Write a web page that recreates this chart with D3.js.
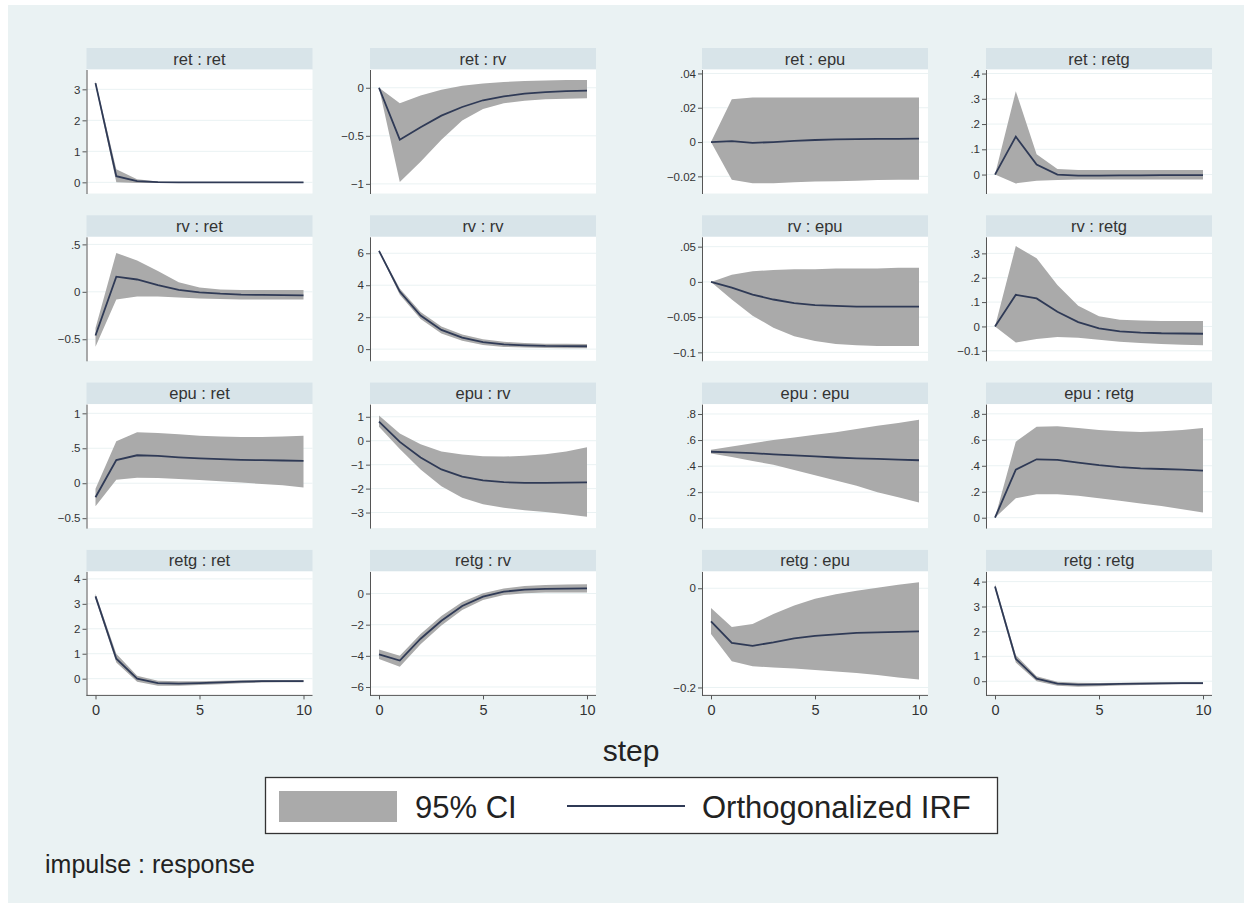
<!DOCTYPE html>
<html>
<head>
<meta charset="utf-8">
<script src="https://cdn.jsdelivr.net/npm/d3@7"></script>
<style>
  body { margin: 0; background: #fff; }
  svg { display: block; }
  text { font-family: "Liberation Sans", Arial, sans-serif; }
</style>
</head>
<body>
<div id="chart-area"></div>
<script>
// impulse : response, steps 0..10
const steps = [0, 1, 2, 3, 4, 5, 6, 7, 8, 9, 10]
const impulses = ["ret", "rv", "epu", "retg"]
const responses = ["ret", "rv", "epu", "retg"]
const xTicks = [0, 5, 10]

// ret -> ...
const irf_ret_ret = [3.2, 0.2, 0.04, 0.01, 0, 0, 0, 0, 0, 0, 0]
const lo_ret_ret  = [3.13, 0.0, -0.02, -0.02, -0.01, -0.01, -0.01, -0.01, -0.01, -0.01, -0.01]
const hi_ret_ret  = [3.27, 0.42, 0.1, 0.03, 0.01, 0.01, 0.01, 0.01, 0.01, 0.01, 0.01]

const irf_ret_rv = [0, -0.54, -0.41, -0.29, -0.2, -0.13, -0.09, -0.06, -0.045, -0.035, -0.03]
const lo_ret_rv  = [0, -0.98, -0.77, -0.54, -0.34, -0.22, -0.16, -0.135, -0.12, -0.115, -0.11]
const hi_ret_rv  = [0, -0.16, -0.08, -0.02, 0.02, 0.045, 0.06, 0.07, 0.075, 0.08, 0.08]

const irf_ret_epu = [0, 0.0005, -0.0005, 0, 0.0007, 0.0012, 0.0015, 0.0017, 0.0018, 0.0019, 0.002]
const lo_ret_epu  = [0, -0.022, -0.024, -0.024, -0.0235, -0.023, -0.0228, -0.0225, -0.0222, -0.022, -0.022]
const hi_ret_epu  = [0, 0.025, 0.026, 0.026, 0.026, 0.026, 0.026, 0.026, 0.026, 0.026, 0.026]

const irf_ret_retg = [0, 0.15, 0.04, 0.0, -0.004, -0.004, -0.003, -0.003, -0.002, -0.002, -0.002]
const lo_ret_retg  = [0, -0.035, -0.025, -0.022, -0.02, -0.02, -0.02, -0.02, -0.02, -0.02, -0.02]
const hi_ret_retg  = [0, 0.33, 0.08, 0.022, 0.018, 0.018, 0.018, 0.018, 0.018, 0.018, 0.018]

// rv -> ...
const irf_rv_ret = [-0.46, 0.16, 0.13, 0.07, 0.02, -0.005, -0.02, -0.03, -0.033, -0.035, -0.037]
const lo_rv_ret  = [-0.58, -0.08, -0.05, -0.05, -0.06, -0.07, -0.075, -0.08, -0.08, -0.08, -0.08]
const hi_rv_ret  = [-0.38, 0.41, 0.33, 0.22, 0.1, 0.045, 0.025, 0.02, 0.02, 0.02, 0.02]

const irf_rv_rv = [6.15, 3.6, 2.1, 1.2, 0.72, 0.44, 0.3, 0.24, 0.2, 0.19, 0.18]
const lo_rv_rv  = [6.1, 3.4, 1.88, 0.98, 0.52, 0.26, 0.14, 0.1, 0.07, 0.06, 0.05]
const hi_rv_rv  = [6.2, 3.8, 2.32, 1.42, 0.92, 0.62, 0.46, 0.38, 0.34, 0.33, 0.32]

const irf_rv_epu = [0, -0.008, -0.018, -0.025, -0.03, -0.033, -0.034, -0.035, -0.035, -0.035, -0.035]
const lo_rv_epu  = [0, -0.025, -0.048, -0.065, -0.077, -0.084, -0.088, -0.09, -0.091, -0.091, -0.091]
const hi_rv_epu  = [0, 0.01, 0.015, 0.017, 0.018, 0.018, 0.019, 0.019, 0.019, 0.02, 0.02]

const irf_rv_retg = [0, 0.13, 0.115, 0.06, 0.018, -0.008, -0.02, -0.025, -0.028, -0.029, -0.03]
const lo_rv_retg  = [0, -0.066, -0.052, -0.043, -0.046, -0.055, -0.063, -0.068, -0.072, -0.075, -0.077]
const hi_rv_retg  = [0, 0.33, 0.28, 0.17, 0.085, 0.042, 0.028, 0.024, 0.022, 0.022, 0.022]

// epu -> ...
const irf_epu_ret = [-0.2, 0.33, 0.4, 0.39, 0.37, 0.355, 0.345, 0.335, 0.33, 0.325, 0.32]
const lo_epu_ret  = [-0.33, 0.05, 0.08, 0.075, 0.06, 0.045, 0.03, 0.01, -0.01, -0.03, -0.06]
const hi_epu_ret  = [-0.08, 0.6, 0.73, 0.72, 0.7, 0.68, 0.67, 0.66, 0.66, 0.67, 0.68]

const irf_epu_rv = [0.8, -0.05, -0.7, -1.2, -1.5, -1.66, -1.73, -1.76, -1.76, -1.75, -1.74]
const lo_epu_rv  = [0.58, -0.35, -1.2, -1.9, -2.38, -2.65, -2.8, -2.9, -2.98, -3.07, -3.18]
const hi_epu_rv  = [1.05, 0.3, -0.15, -0.45, -0.58, -0.65, -0.66, -0.63, -0.56, -0.45, -0.27]

const irf_epu_epu = [0.51, 0.505, 0.5, 0.49, 0.482, 0.475, 0.466, 0.46, 0.455, 0.45, 0.445]
const lo_epu_epu  = [0.497, 0.47, 0.44, 0.41, 0.37, 0.33, 0.29, 0.25, 0.2, 0.16, 0.12]
const hi_epu_epu  = [0.525, 0.55, 0.575, 0.6, 0.62, 0.64, 0.66, 0.685, 0.71, 0.73, 0.755]

const irf_epu_retg = [0, 0.37, 0.45, 0.445, 0.425, 0.405, 0.39, 0.38, 0.375, 0.37, 0.363]
const lo_epu_retg  = [0, 0.15, 0.18, 0.18, 0.17, 0.15, 0.13, 0.11, 0.09, 0.065, 0.04]
const hi_epu_retg  = [0, 0.585, 0.7, 0.705, 0.69, 0.675, 0.665, 0.66, 0.665, 0.675, 0.69]

// retg -> ...
const irf_retg_ret = [3.3, 0.8, 0.0, -0.18, -0.2, -0.18, -0.15, -0.12, -0.1, -0.1, -0.1]
const lo_retg_ret  = [3.2, 0.65, -0.12, -0.28, -0.28, -0.25, -0.22, -0.18, -0.15, -0.14, -0.14]
const hi_retg_ret  = [3.4, 1.0, 0.12, -0.08, -0.1, -0.1, -0.08, -0.06, -0.05, -0.05, -0.05]

const irf_retg_rv = [-3.9, -4.3, -2.9, -1.75, -0.8, -0.2, 0.12, 0.25, 0.3, 0.32, 0.33]
const lo_retg_rv  = [-4.2, -4.7, -3.25, -2.05, -1.05, -0.42, -0.1, 0.02, 0.06, 0.07, 0.07]
const hi_retg_rv  = [-3.6, -4.0, -2.6, -1.45, -0.55, 0.02, 0.33, 0.48, 0.55, 0.58, 0.6]

const irf_retg_epu = [-0.067, -0.11, -0.116, -0.109, -0.101, -0.096, -0.093, -0.09, -0.089, -0.088, -0.087]
const lo_retg_epu  = [-0.092, -0.147, -0.157, -0.16, -0.162, -0.165, -0.168, -0.171, -0.175, -0.18, -0.184]
const hi_retg_epu  = [-0.04, -0.078, -0.072, -0.052, -0.035, -0.021, -0.012, -0.005, 0.001, 0.007, 0.012]

const irf_retg_retg = [3.8, 0.9, 0.1, -0.1, -0.14, -0.13, -0.11, -0.1, -0.09, -0.08, -0.08]
const lo_retg_retg  = [3.7, 0.75, 0.0, -0.18, -0.22, -0.2, -0.17, -0.15, -0.13, -0.12, -0.12]
const hi_retg_retg  = [3.9, 1.05, 0.2, -0.02, -0.06, -0.07, -0.06, -0.05, -0.04, -0.04, -0.04]

// y tick labels per panel (row = impulse, col = response)
const yTicks = [
  [[0, 1, 2, 3], [-1, -0.5, 0], [-0.02, 0, 0.02, 0.04], [0, 0.1, 0.2, 0.3, 0.4]],
  [[-0.5, 0, 0.5], [0, 2, 4, 6], [-0.1, -0.05, 0, 0.05], [-0.1, 0, 0.1, 0.2, 0.3]],
  [[-0.5, 0, 0.5, 1], [-3, -2, -1, 0, 1], [0, 0.2, 0.4, 0.6, 0.8], [0, 0.2, 0.4, 0.6, 0.8]],
  [[0, 1, 2, 3, 4], [-6, -4, -2, 0], [-0.2, 0], [0, 1, 2, 3, 4]]
]
// y axis ranges per panel
const yRanges = [
  [[-0.36, 3.64], [-1.10, 0.19], [-0.030, 0.0423], [-0.075, 0.416]],
  [[-0.727, 0.58], [-0.73, 7.03], [-0.112, 0.064], [-0.141, 0.368]],
  [[-0.642, 1.132], [-3.65, 1.53], [-0.076, 0.876], [-0.08, 0.875]],
  [[-0.67, 4.30], [-6.54, 1.42], [-0.216, 0.034], [-0.57, 4.41]]
]

const series = {
  ret_ret: [irf_ret_ret, lo_ret_ret, hi_ret_ret], ret_rv: [irf_ret_rv, lo_ret_rv, hi_ret_rv],
  ret_epu: [irf_ret_epu, lo_ret_epu, hi_ret_epu], ret_retg: [irf_ret_retg, lo_ret_retg, hi_ret_retg],
  rv_ret: [irf_rv_ret, lo_rv_ret, hi_rv_ret], rv_rv: [irf_rv_rv, lo_rv_rv, hi_rv_rv],
  rv_epu: [irf_rv_epu, lo_rv_epu, hi_rv_epu], rv_retg: [irf_rv_retg, lo_rv_retg, hi_rv_retg],
  epu_ret: [irf_epu_ret, lo_epu_ret, hi_epu_ret], epu_rv: [irf_epu_rv, lo_epu_rv, hi_epu_rv],
  epu_epu: [irf_epu_epu, lo_epu_epu, hi_epu_epu], epu_retg: [irf_epu_retg, lo_epu_retg, hi_epu_retg],
  retg_ret: [irf_retg_ret, lo_retg_ret, hi_retg_ret], retg_rv: [irf_retg_rv, lo_retg_rv, hi_retg_rv],
  retg_epu: [irf_retg_epu, lo_retg_epu, hi_retg_epu], retg_retg: [irf_retg_retg, lo_retg_retg, hi_retg_retg]
}

// layout
const width = 1252, height = 909
const colLeft = [86.5, 370, 702, 986]
const plotW = 226, padX = 9
const firstTop = 69.5, rowStep = 167.3, plotH = 124, stripH = 21.5

const ciColor = "#aaaaaa", lineColor = "#2f3a56", bg = "#eaf2f3", stripColor = "#d8e4e9"

// Stata style labels: .5, -.02
const fmt = d => d3.format("~g")(d).replace(/^(-?)0\./, "$1.")

const svg = d3.select("#chart-area").append("svg")
    .attr("width", width)
    .attr("height", height)

svg.append("rect")
    .attr("x", 8).attr("y", 5)
    .attr("width", width - 16).attr("height", height - 11)
    .attr("fill", bg)

impulses.forEach(function(imp, r){
    responses.forEach(function(res, c){
        const [irf, lo, hi] = series[imp + "_" + res]
        const data = steps.map((s, i) => ({ step: s, irf: irf[i], lo: lo[i], hi: hi[i] }))
        const left = colLeft[c], top = firstTop + r * rowStep, bottom = top + plotH

        const x = d3.scaleLinear().domain([0, 10]).range([left + padX, left + plotW - padX])
        const y = d3.scaleLinear().domain(yRanges[r][c]).range([bottom, top])

        const g = svg.append("g").attr("class", "panel")

        // strip
        g.append("rect")
            .attr("x", left).attr("y", top - stripH)
            .attr("width", plotW).attr("height", stripH)
            .attr("fill", stripColor)
        g.append("text")
            .attr("x", left + plotW / 2)
            .attr("y", top - 5)
            .attr("text-anchor", "middle")
            .attr("font-size", "16.5px")
            .attr("fill", "#333")
            .text(imp + " : " + res)

        // plot region
        g.append("rect")
            .attr("x", left).attr("y", top)
            .attr("width", plotW).attr("height", plotH)
            .attr("fill", "#fff")

        g.selectAll(".grid")
            .data(yTicks[r][c])
            .enter().append("line")
            .attr("x1", left).attr("x2", left + plotW)
            .attr("y1", d => y(d)).attr("y2", d => y(d))
            .attr("stroke", bg)
            .attr("stroke-width", 1)

        g.append("path")
            .datum(data)
            .attr("fill", ciColor)
            .attr("d", d3.area().x(d => x(d.step)).y0(d => y(d.lo)).y1(d => y(d.hi)))

        g.append("path")
            .datum(data)
            .attr("fill", "none")
            .attr("stroke", lineColor)
            .attr("stroke-width", 1.8)
            .attr("d", d3.line().x(d => x(d.step)).y(d => y(d.irf)))

        // y axis
        const yAxis = g.append("g")
            .attr("transform", "translate(" + left + ",0)")
            .call(d3.axisLeft(y).tickValues(yTicks[r][c]).tickFormat(fmt).tickSize(4).tickSizeOuter(0).tickPadding(2))
        yAxis.select(".domain").attr("stroke", "#555")
        yAxis.selectAll(".tick line").attr("stroke", "#555")
        yAxis.selectAll("text")
            .attr("font-size", "11.5px")
            .attr("fill", "#333")
            .style("font-family", "'Liberation Sans', Arial, sans-serif")

        // x axis on the bottom row only
        if (r === impulses.length - 1) {
            const xAxis = g.append("g")
                .attr("transform", "translate(0," + bottom + ")")
                .call(d3.axisBottom(x).tickValues(xTicks).tickSize(4).tickSizeOuter(0).tickPadding(5))
            xAxis.select(".domain").remove()
            xAxis.append("line")
                .attr("x1", left).attr("x2", left + plotW)
                .attr("stroke", "#555")
            xAxis.selectAll(".tick line").attr("stroke", "#555")
            xAxis.selectAll("text")
                .attr("font-size", "14.5px")
                .attr("fill", "#333")
                .style("font-family", "'Liberation Sans', Arial, sans-serif")
        }
    })
})

// axis title
svg.append("text")
    .attr("x", 631)
    .attr("y", 761)
    .attr("text-anchor", "middle")
    .attr("font-size", "30px")
    .attr("fill", "#222")
    .text("step")

// legend
const lg = svg.append("g")
lg.append("rect")
    .attr("x", 265.5).attr("y", 777.5)
    .attr("width", 732).attr("height", 56)
    .attr("fill", "#fff")
    .attr("stroke", "#333")
    .attr("stroke-width", 1.3)
lg.append("rect")
    .attr("x", 279).attr("y", 791)
    .attr("width", 118).attr("height", 31)
    .attr("fill", ciColor)
lg.append("text")
    .attr("x", 415).attr("y", 818)
    .attr("font-size", "31px")
    .attr("fill", "#222")
    .text("95% CI")
lg.append("line")
    .attr("x1", 567).attr("x2", 685)
    .attr("y1", 806).attr("y2", 806)
    .attr("stroke", lineColor)
    .attr("stroke-width", 2)
lg.append("text")
    .attr("x", 702).attr("y", 818)
    .attr("font-size", "31px")
    .attr("fill", "#222")
    .text("Orthogonalized IRF")

svg.append("text")
    .attr("x", 45)
    .attr("y", 873)
    .attr("font-size", "25px")
    .attr("fill", "#222")
    .text("impulse : response")
</script>
</body>
</html>
